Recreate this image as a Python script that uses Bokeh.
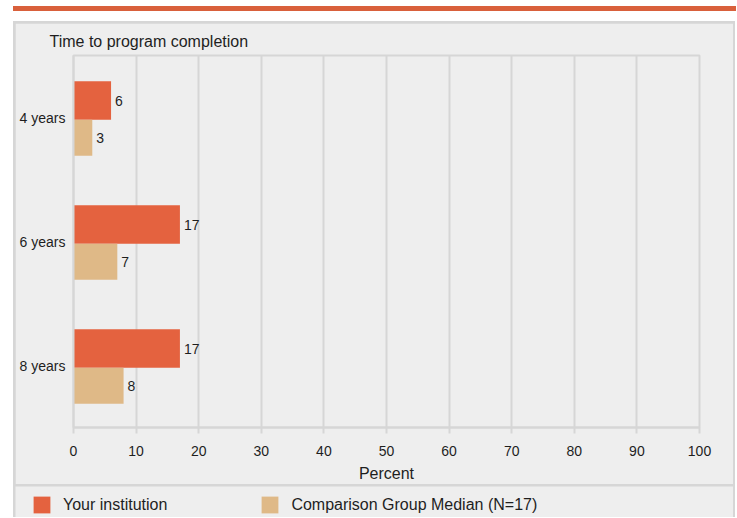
from bokeh.plotting import figure
from bokeh.models import (FactorRange, FixedTicker, Legend, LegendItem, ColumnDataSource, Div)
from bokeh.layouts import column
from bokeh.transform import dodge
from bokeh.core.properties import value
from bokeh.embed import file_html
from bokeh.resources import INLINE

categories = ["4 years", "6 years", "8 years"]
institution = [6, 17, 17]
comparison = [3, 7, 8]
series_names = ["Your institution", "Comparison Group Median (N=17)"]
x_ticks = [0, 10, 20, 30, 40, 50, 60, 70, 80, 90, 100]

ORANGE = "#e4623f"
TAN = "#dfb987"
TOPBAR = "#d9603b"
BG = "#eeeeee"
GRID = "#d6d6d6"
TXT = "#1e1e1e"
FONT = "Liberation Sans"

FW = 718   # inner panel width
MH = 461   # main chart height
LH = 31    # legend strip height

OFF_A, H_A = 0.137, 0.31
OFF_B, H_B = -0.163, 0.29

p = figure(width=FW, height=MH, output_backend="svg", toolbar_location=None,
           y_range=FactorRange(factors=list(reversed(categories))),
           x_range=(0, 100), min_border_left=58, min_border_right=34,
           min_border_top=32, min_border_bottom=53, margin=(2, 2, 2, 2),
           frame_align=False)
p.background_fill_color = BG
p.border_fill_color = BG
p.outline_line_color = GRID
p.outline_line_width = 2

p.title.text = "Time to program completion"
p.title.align = "left"
p.title.offset = -24
p.title.standoff = 12
p.title.text_font = FONT
p.title.text_font_size = "16px"
p.title.text_font_style = "normal"
p.title.text_color = TXT

src = ColumnDataSource(dict(cat=categories, inst=institution, comp=comparison,
                            inst_s=[str(v) for v in institution],
                            comp_s=[str(v) for v in comparison]))

p.hbar(y=dodge("cat", OFF_A, range=p.y_range), right="inst", left=0, height=H_A,
       source=src, color=ORANGE, line_color=None)
p.hbar(y=dodge("cat", OFF_B, range=p.y_range), right="comp", left=0, height=H_B,
       source=src, color=TAN, line_color=None)
p.text(x="inst", y=dodge("cat", OFF_A, range=p.y_range), text="inst_s", source=src,
       x_offset=4, text_baseline="middle", text_font_size="14px",
       text_font=value(FONT), text_color=TXT)
p.text(x="comp", y=dodge("cat", OFF_B, range=p.y_range), text="comp_s", source=src,
       x_offset=4, text_baseline="middle", text_font_size="14px",
       text_font=value(FONT), text_color=TXT)

p.xaxis.ticker = FixedTicker(ticks=x_ticks)
p.xaxis.axis_label = "Percent"
p.xaxis.axis_label_text_font = FONT
p.xaxis.axis_label_text_font_style = "normal"
p.xaxis.axis_label_text_font_size = "16px"
p.xaxis.axis_label_text_color = TXT
p.xaxis.axis_label_standoff = 6
p.xaxis.major_label_text_font = FONT
p.xaxis.major_label_text_font_size = "14px"
p.xaxis.major_label_text_color = TXT
p.xaxis.major_label_standoff = 12
p.xaxis.axis_line_color = GRID
p.xaxis.axis_line_width = 2
p.xaxis.major_tick_line_color = GRID
p.xaxis.major_tick_line_width = 2
p.xaxis.major_tick_out = 6
p.xaxis.major_tick_in = 0
p.xaxis.minor_tick_line_color = None

p.yaxis.major_label_text_font = FONT
p.yaxis.major_label_text_font_size = "14px"
p.yaxis.major_label_text_color = TXT
p.yaxis.major_label_standoff = 8
p.yaxis.axis_line_color = GRID
p.yaxis.axis_line_width = 2
p.yaxis.major_tick_line_color = None
p.yaxis.major_tick_out = 0
p.yaxis.major_tick_in = 0
p.yaxis.minor_tick_line_color = None

p.xgrid.ticker = FixedTicker(ticks=x_ticks)
p.xgrid.grid_line_color = GRID
p.xgrid.grid_line_width = 2
p.ygrid.grid_line_color = None

# legend strip (hidden renderers on the same data, only their legend swatches show)
p2 = figure(width=FW, height=LH, output_backend="svg", toolbar_location=None,
            x_range=(0, 100), y_range=FactorRange(factors=list(reversed(categories))),
            x_axis_type=None, y_axis_type=None,
            min_border=0, margin=(0, 2, 0, 2), frame_align=False)
p2.background_fill_color = BG
p2.border_fill_color = BG
p2.outline_line_color = None
p2.grid.visible = False
l1 = p2.hbar(y="cat", right="inst", left=0, height=0.3, source=src,
             fill_color=ORANGE, line_color=None, visible=False)
l2 = p2.hbar(y="cat", right="comp", left=0, height=0.3, source=src,
             fill_color=TAN, line_color=None, visible=False)
legend = Legend(items=[LegendItem(label=series_names[0], renderers=[l1]),
                       LegendItem(label=series_names[1], renderers=[l2])],
                orientation="horizontal", location=(16, 2), glyph_width=21, glyph_height=21,
                label_standoff=11, spacing=92, padding=0, margin=0,
                label_text_font=FONT, label_text_font_size="16px", label_text_color=TXT,
                background_fill_alpha=0, border_line_color=None)
p2.add_layout(legend, "center")

topbar = Div(text="", width=723, height=5, margin=(6, 0, 10, 13),
             styles={"background-color": TOPBAR})
panel = column(p, p2, spacing=0, margin=(0, 0, 0, 13), styles={"background-color": GRID})
root = column(topbar, panel, spacing=0)

open("out.html", "w").write(file_html(root, INLINE))
